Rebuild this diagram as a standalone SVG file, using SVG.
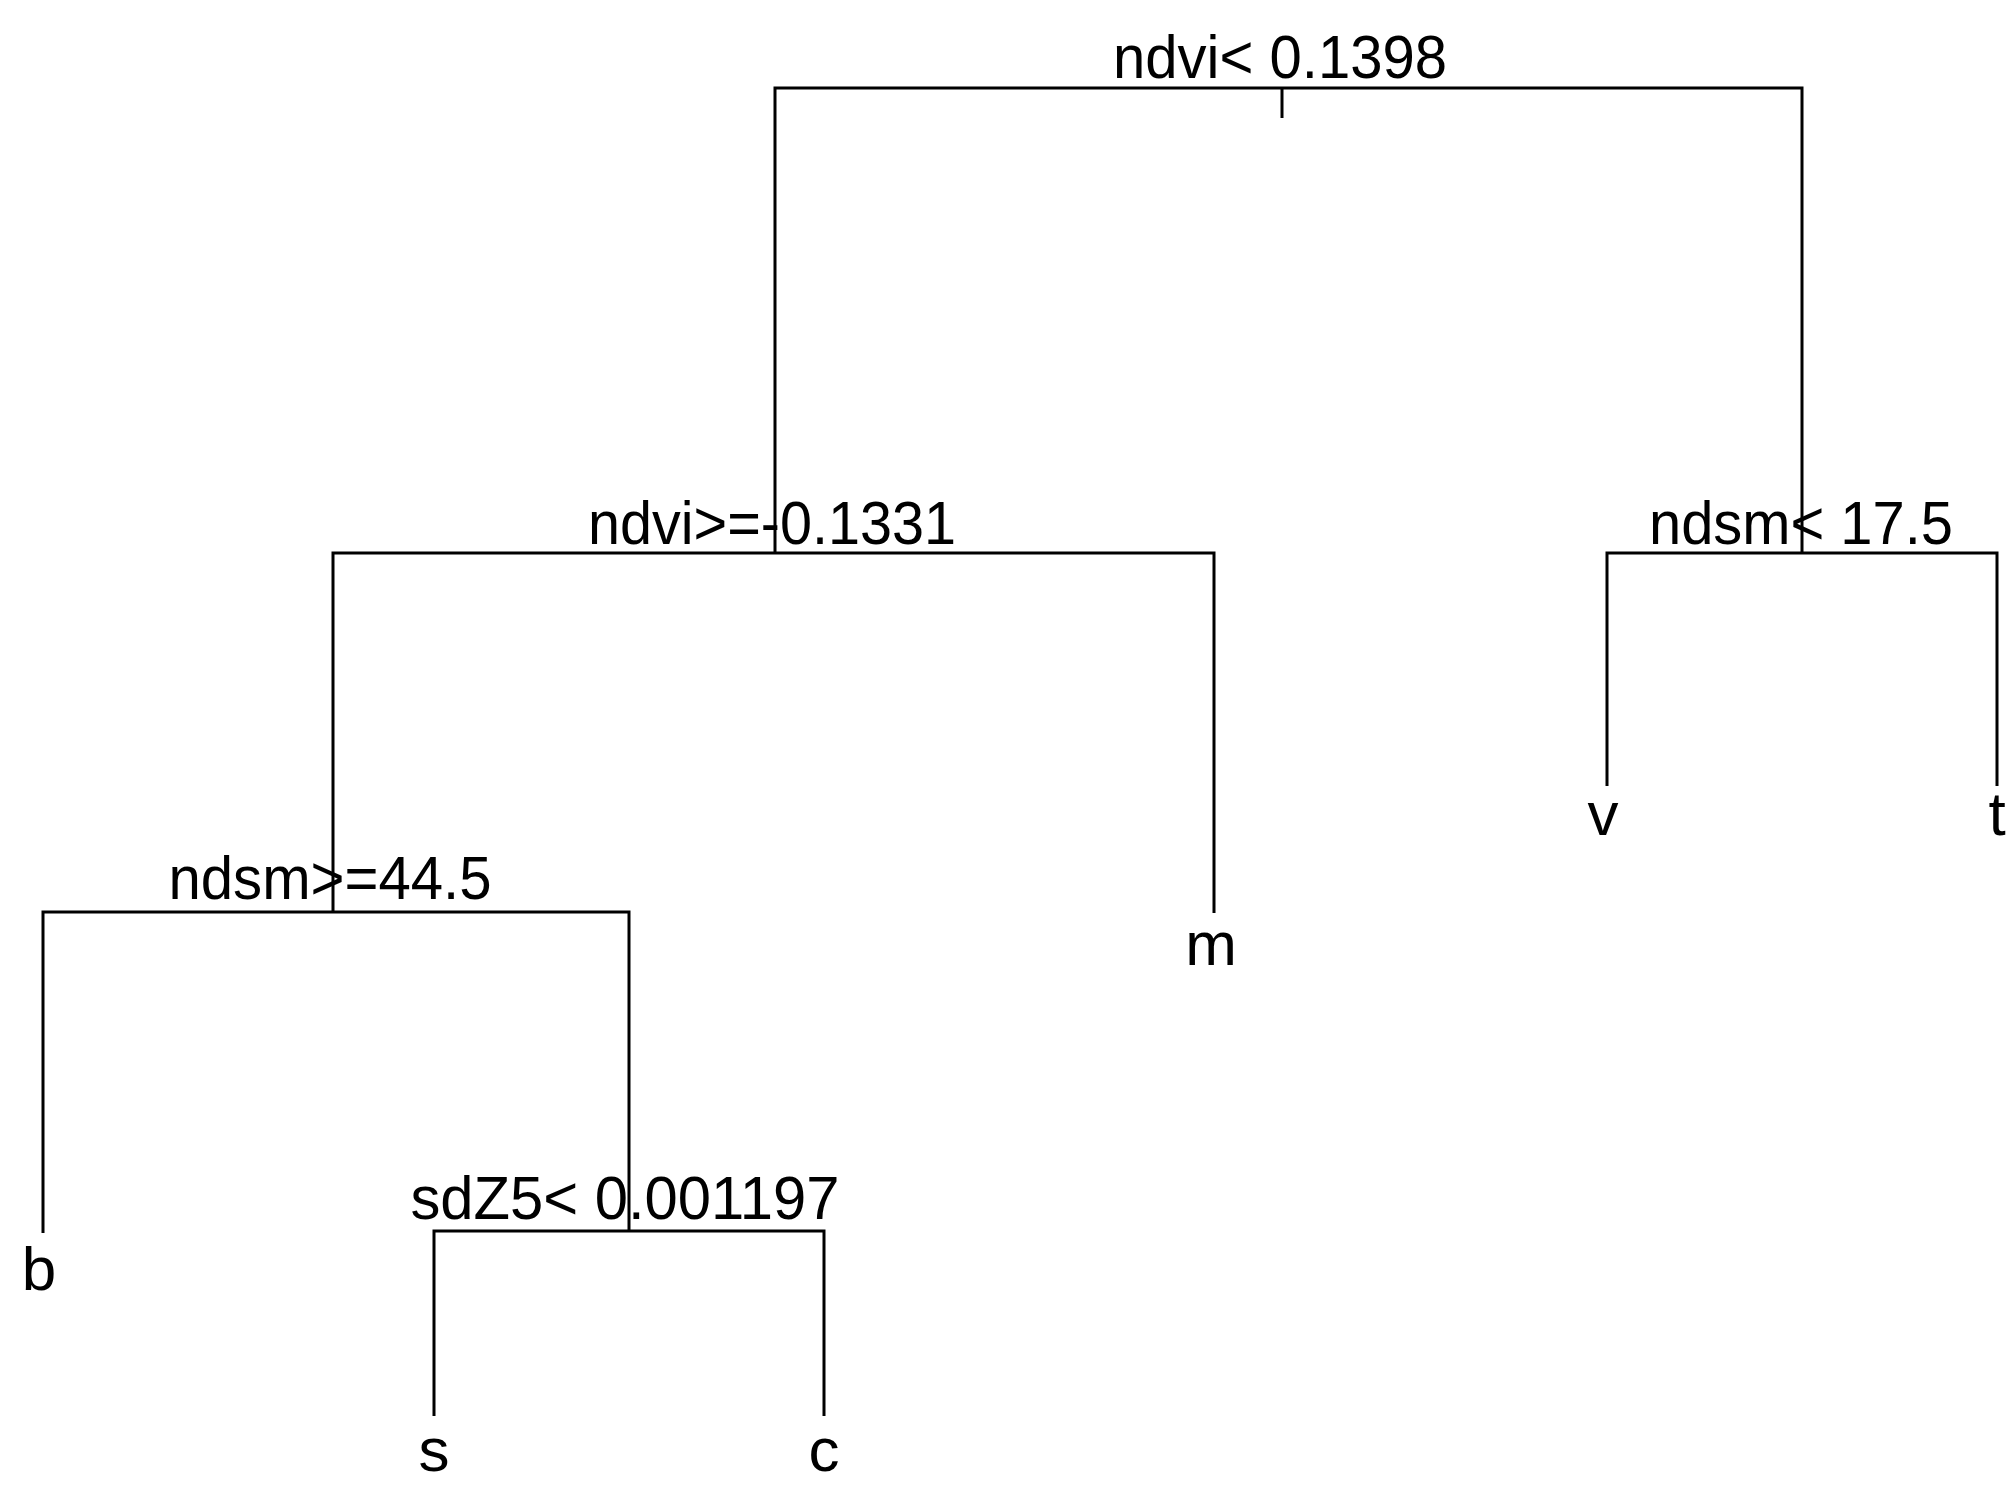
<svg xmlns="http://www.w3.org/2000/svg" width="2016" height="1495" viewBox="0 0 2016 1495">
<style>
.e{fill:none;stroke:#000;stroke-width:3}
text{font-family:"Liberation Sans",Arial,sans-serif;font-size:62px;fill:#000;text-anchor:middle}
</style>
<rect width="2016" height="1495" fill="#fff"/>
<g id="connectors">
<path class="e" d="M775,553 V88 H1802 V553"/>
<path class="e" d="M1282,88 V118"/>
<path class="e" d="M333,912 V553 H1214 V913"/>
<path class="e" d="M1607,786 V553 H1997 V786"/>
<path class="e" d="M43,1233 V912 H629 V1231"/>
<path class="e" d="M434,1416 V1231 H824 V1416"/>
</g>
<g id="n1"><text x="1280" y="78" textLength="334" lengthAdjust="spacingAndGlyphs">ndvi&lt; 0.1398</text></g>
<g id="n2"><text x="772" y="544" textLength="368" lengthAdjust="spacingAndGlyphs">ndvi&gt;=-0.1331</text></g>
<g id="n3"><text x="1801" y="544" textLength="304" lengthAdjust="spacingAndGlyphs">ndsm&lt; 17.5</text></g>
<g id="n4"><text x="330" y="899" textLength="323" lengthAdjust="spacingAndGlyphs">ndsm&gt;=44.5</text></g>
<g id="n5"><text x="625" y="1219" textLength="429" lengthAdjust="spacingAndGlyphs">sdZ5&lt; 0.001197</text></g>
<g id="leaf-v"><text x="1603" y="835">v</text></g>
<g id="leaf-t"><text x="1997" y="835">t</text></g>
<g id="leaf-m"><text x="1211" y="965">m</text></g>
<g id="leaf-b"><text x="39" y="1290">b</text></g>
<g id="leaf-s"><text x="434" y="1471">s</text></g>
<g id="leaf-c"><text x="824" y="1471">c</text></g>
</svg>
